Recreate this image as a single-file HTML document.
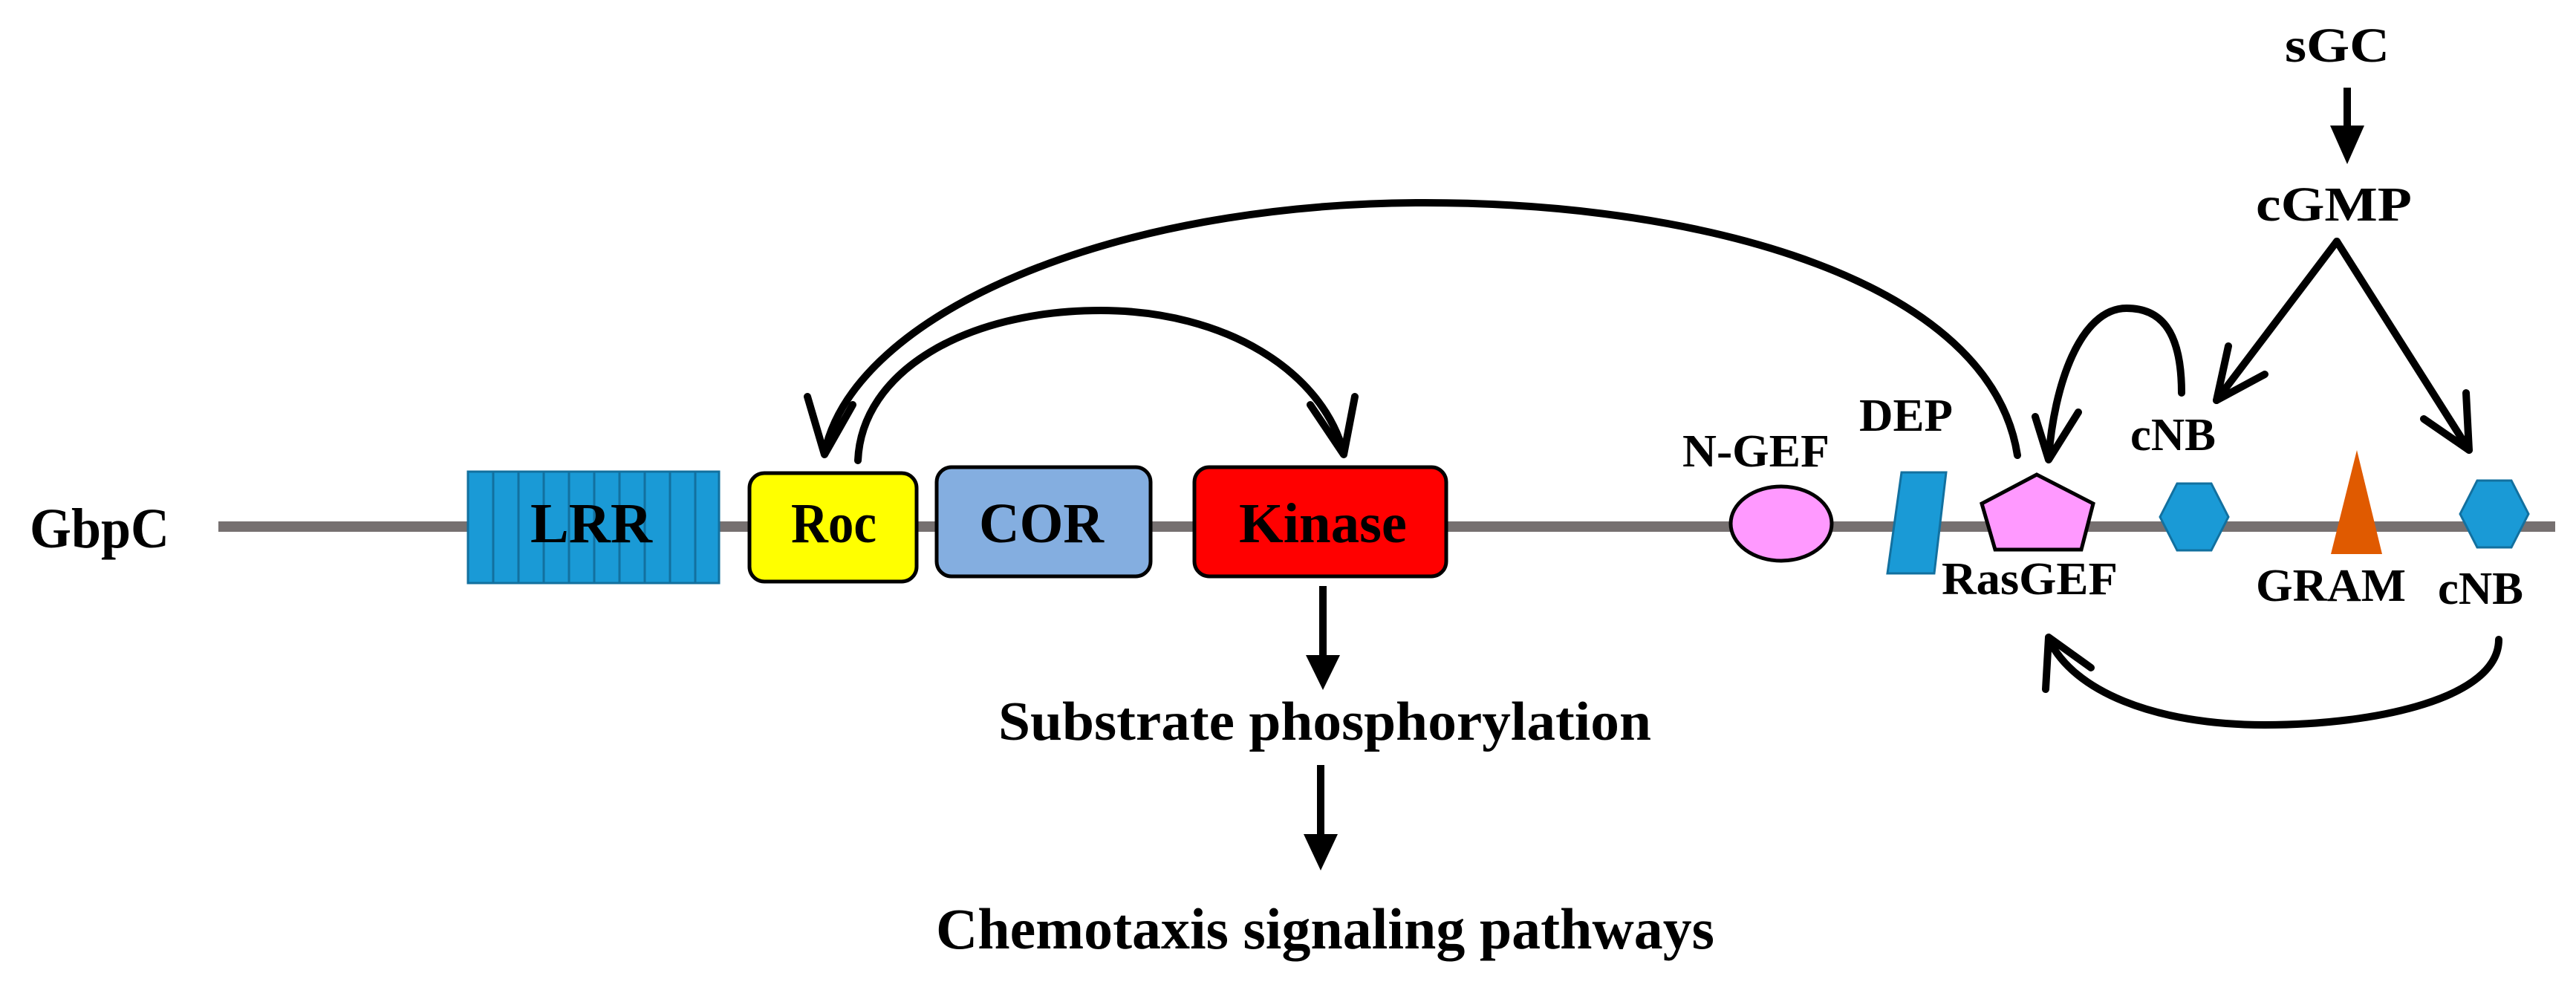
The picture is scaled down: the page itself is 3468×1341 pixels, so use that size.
<!DOCTYPE html>
<html><head><meta charset="utf-8"><style>
html,body{margin:0;padding:0;background:#fff;}
svg{display:block;}
text{font-family:"Liberation Serif",serif;font-weight:bold;fill:#000;}
</style></head><body>
<svg width="3468" height="1341" viewBox="0 0 3468 1341" xmlns="http://www.w3.org/2000/svg">
<!-- backbone -->
<rect x="294" y="702" width="3146" height="14" fill="#767070"/>
<text x="40" y="737" font-size="76" textLength="188" lengthAdjust="spacingAndGlyphs">GbpC</text>

<!-- LRR -->
<g fill="#1a9ad6" stroke="#12709f" stroke-width="3">
<rect x="630" y="635" width="34" height="150"/>
<rect x="664" y="635" width="34" height="150"/>
<rect x="698" y="635" width="34" height="150"/>
<rect x="732" y="635" width="34" height="150"/>
<rect x="766" y="635" width="34" height="150"/>
<rect x="800" y="635" width="34" height="150"/>
<rect x="834" y="635" width="34" height="150"/>
<rect x="868" y="635" width="34" height="150"/>
<rect x="902" y="635" width="34" height="150"/>
<rect x="936" y="635" width="32" height="150"/>
</g>
<text x="714" y="730" font-size="76" textLength="164" lengthAdjust="spacingAndGlyphs">LRR</text>

<!-- Roc, COR, Kinase -->
<rect x="1009" y="637" width="225" height="146" rx="20" fill="#ffff00" stroke="#000" stroke-width="5"/>
<text x="1065" y="730" font-size="76" textLength="115" lengthAdjust="spacingAndGlyphs">Roc</text>
<rect x="1261" y="629" width="288" height="147" rx="20" fill="#84aee0" stroke="#000" stroke-width="5"/>
<text x="1318" y="730" font-size="76" textLength="168" lengthAdjust="spacingAndGlyphs">COR</text>
<rect x="1608" y="629" width="339" height="147" rx="20" fill="#ff0000" stroke="#000" stroke-width="5"/>
<text x="1668" y="730" font-size="76" textLength="226" lengthAdjust="spacingAndGlyphs">Kinase</text>

<!-- right domains -->
<ellipse cx="2398" cy="705" rx="68" ry="50" fill="#ff99ff" stroke="#000" stroke-width="5"/>
<text x="2265" y="628" font-size="62" textLength="198" lengthAdjust="spacingAndGlyphs">N-GEF</text>
<polygon points="2560,636 2620,636 2604,772 2541,772" fill="#1a9ad6" stroke="#12709f" stroke-width="3"/>
<text x="2503" y="580" font-size="62" textLength="126" lengthAdjust="spacingAndGlyphs">DEP</text>
<polygon points="2742,639 2818,678 2802,740 2686,740 2668,678" fill="#ff99ff" stroke="#000" stroke-width="5"/>
<text x="2614" y="800" font-size="62" textLength="237" lengthAdjust="spacingAndGlyphs">RasGEF</text>
<polygon points="2908,696 2931,651 2977,651 3000,696 2977,741 2931,741" fill="#1a9ad6" stroke="#12709f" stroke-width="3"/>
<text x="2868" y="606" font-size="62" textLength="115" lengthAdjust="spacingAndGlyphs">cNB</text>
<polygon points="3173,606 3207,746 3138,746" fill="#e05a00"/>
<text x="3037" y="809" font-size="62" textLength="202" lengthAdjust="spacingAndGlyphs">GRAM</text>
<polygon points="3312,692 3335,647 3381,647 3404,692 3381,737 3335,737" fill="#1a9ad6" stroke="#12709f" stroke-width="3"/>
<text x="3282" y="813" font-size="62" textLength="115" lengthAdjust="spacingAndGlyphs">cNB</text>

<!-- sGC / cGMP -->
<text x="3076" y="83" font-size="66" textLength="141" lengthAdjust="spacingAndGlyphs">sGC</text>
<text x="3037" y="297" font-size="66" textLength="210" lengthAdjust="spacingAndGlyphs">cGMP</text>
<rect x="3155" y="118" width="10" height="54" fill="#000"/>
<polygon points="3137,169 3183,169 3160,221" fill="#000"/>

<!-- arrows -->
<g fill="none" stroke="#000" stroke-width="10" stroke-linecap="round" stroke-linejoin="round">
<path d="M2716,613 C2680,380 2300,273 1918,273 C1500,273 1150,420 1110,610"/>
<path d="M1087,534 L1110,612 L1148,545"/>
<path d="M1155,620 C1160,500 1300,418 1482,418 C1650,418 1780,500 1809,610"/>
<path d="M1764,545 L1809,612 L1824,534"/>
<path d="M3146,325 L2984,539"/>
<path d="M3000,466 L2984,539 L3049,504"/>
<path d="M3146,325 L3324,606"/>
<path d="M3263,564 L3324,606 L3320,529"/>
<path d="M2937,529 C2937,440 2905,415 2863,415 C2800,415 2765,520 2758,617"/>
<path d="M2740,561 L2758,619 L2798,555"/>
<path d="M3364,861 C3364,940 3200,976 3049,976 C2900,976 2790,930 2758,860"/>
<path d="M2754,928 L2758,858 L2815,899"/>
</g>

<!-- bottom flow -->
<rect x="1776" y="789" width="10" height="95" fill="#000"/>
<polygon points="1758,882 1804,882 1781,929" fill="#000"/>
<text x="1344" y="996" font-size="74" textLength="879" lengthAdjust="spacingAndGlyphs">Substrate phosphorylation</text>
<rect x="1773" y="1030" width="10" height="95" fill="#000"/>
<polygon points="1755,1123 1801,1123 1778,1172" fill="#000"/>
<text x="1260" y="1277" font-size="78" textLength="1048" lengthAdjust="spacingAndGlyphs">Chemotaxis signaling pathways</text>
</svg>
</body></html>
